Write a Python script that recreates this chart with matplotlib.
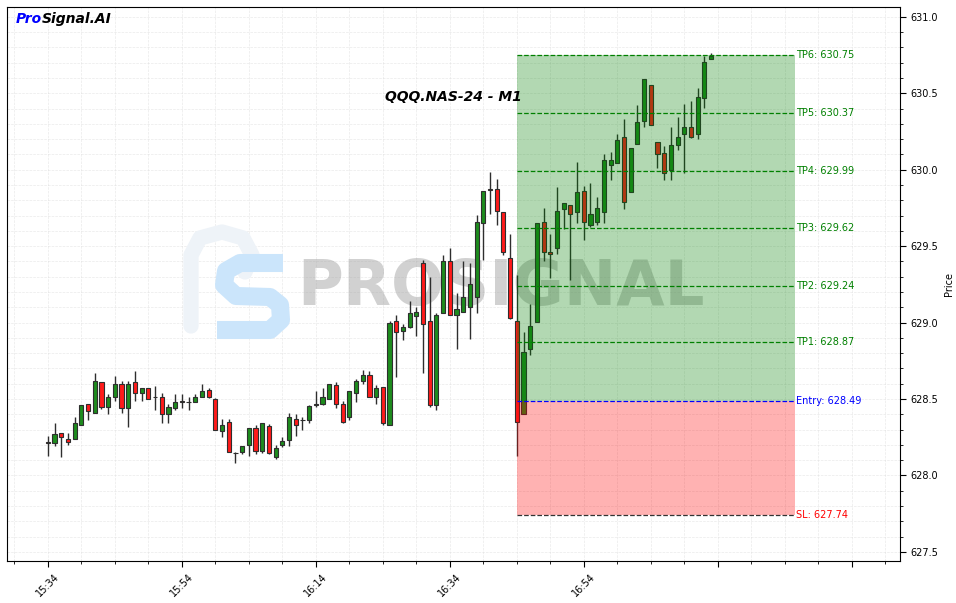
import matplotlib
matplotlib.use("Agg")
import matplotlib.pyplot as plt
from matplotlib.ticker import MultipleLocator, FuncFormatter
from matplotlib.patches import Rectangle
from matplotlib.path import Path
from matplotlib.patches import PathPatch

# ---------------- data ----------------
opens = [628.216, 628.209, 628.276, 628.237, 628.237, 628.329, 628.466, 628.407, 628.610, 628.446,
         628.510, 628.597, 628.440, 628.610, 628.538, 628.571, 628.513, 628.516, 628.401, 628.440,
         628.484, 628.480, 628.479, 628.516, 628.560, 628.499, 628.292, 628.348, 628.147, 628.156,
         628.198, 628.309, 628.163, 628.326, 628.122, 628.200, 628.233, 628.368, 628.362, 628.364,
         628.466, 628.466, 628.499, 628.590, 628.466, 628.379, 628.538, 628.617, 628.656, 628.516,
         628.577, 628.329, 629.009, 628.948, 628.970, 629.040, 629.389, 629.009, 628.462, 629.066,
         629.402, 629.048, 629.068, 629.105, 629.166, 629.650, 629.875, 629.873, 629.722, 629.421,
         629.011, 628.401, 628.826, 629.007, 629.657, 629.460, 629.487, 629.742, 629.768, 629.722,
         629.860, 629.637, 629.657, 629.726, 630.030, 630.043, 630.217, 629.853, 630.167, 630.317,
         630.553, 630.180, 630.108, 629.997, 630.160, 630.232, 630.278, 630.232, 630.468, 630.723]
highs = [628.259, 628.342, 628.276, 628.276, 628.385, 628.460, 628.466, 628.669, 628.610, 628.532,
         628.651, 628.619, 628.619, 628.686, 628.571, 628.571, 628.588, 628.538, 628.466, 628.532,
         628.532, 628.516, 628.532, 628.597, 628.571, 628.505, 628.368, 628.370, 628.152, 628.191,
         628.313, 628.331, 628.342, 628.335, 628.200, 628.250, 628.407, 628.403, 628.381, 628.462,
         628.553, 628.575, 628.595, 628.612, 628.484, 628.551, 628.630, 628.691, 628.686, 628.590,
         628.577, 629.009, 629.048, 628.989, 629.138, 629.105, 629.410, 629.297, 629.066, 629.445,
         629.485, 629.192, 629.402, 629.389, 629.705, 629.860, 629.988, 629.938, 629.726, 629.580,
         629.312, 628.937, 629.120, 629.650, 629.748, 629.578, 629.890, 629.785, 629.768, 630.049,
         629.895, 629.916, 629.825, 630.102, 630.119, 630.232, 630.330, 630.141, 630.422, 630.592,
         630.553, 630.180, 630.158, 630.278, 630.348, 630.429, 630.450, 630.533, 630.745, 630.763]
lows = [628.128, 628.193, 628.119, 628.200, 628.237, 628.329, 628.363, 628.407, 628.433, 628.401,
        628.488, 628.411, 628.316, 628.488, 628.488, 628.499, 628.429, 628.346, 628.346, 628.429,
        628.440, 628.429, 628.479, 628.512, 628.505, 628.296, 628.252, 628.152, 628.084, 628.139,
        628.128, 628.139, 628.146, 628.139, 628.106, 628.189, 628.194, 628.255, 628.298, 628.342,
        628.447, 628.462, 628.499, 628.440, 628.342, 628.364, 628.479, 628.599, 628.512, 628.466,
        628.331, 628.329, 628.647, 628.887, 628.963, 628.909, 628.669, 628.447, 628.425, 629.066,
        629.048, 628.826, 629.068, 628.891, 629.061, 629.410, 629.711, 629.639, 629.443, 629.022,
        628.124, 628.401, 628.787, 629.007, 629.406, 629.290, 629.447, 629.611, 629.279, 629.654,
        629.541, 629.624, 629.639, 629.650, 629.934, 630.043, 629.742, 629.853, 630.167, 630.278,
        630.291, 630.010, 629.934, 629.934, 630.130, 629.977, 630.206, 630.200, 630.407, 630.723]
closes = [628.214, 628.270, 628.250, 628.217, 628.342, 628.460, 628.422, 628.619, 628.446, 628.512,
          628.597, 628.444, 628.597, 628.538, 628.571, 628.499, 628.511, 628.401, 628.446, 628.479,
          628.482, 628.478, 628.516, 628.553, 628.512, 628.296, 628.329, 628.156, 628.145, 628.191,
          628.309, 628.163, 628.342, 628.146, 628.178, 628.228, 628.385, 628.329, 628.360, 628.457,
          628.460, 628.512, 628.595, 628.466, 628.348, 628.551, 628.617, 628.656, 628.516, 628.571,
          628.342, 628.998, 628.937, 628.970, 629.061, 629.068, 628.989, 628.462, 629.048, 629.402,
          629.048, 629.088, 629.168, 629.251, 629.657, 629.860, 629.870, 629.727, 629.461, 629.029,
          628.348, 628.806, 628.979, 629.650, 629.460, 629.447, 629.729, 629.781, 629.709, 629.853,
          629.657, 629.709, 629.748, 630.062, 630.062, 630.193, 629.787, 630.141, 630.311, 630.592,
          630.291, 630.101, 629.977, 630.160, 630.217, 630.278, 630.213, 630.479, 630.703, 630.745]

tick_labels = ["15:34", "15:54", "16:14", "16:34", "16:54"]

entry_index = 70
zone_end = 111.6
entry_price = 628.49
sl_price = 627.74
tp_names = ["TP1", "TP2", "TP3", "TP4", "TP5", "TP6"]
tp_prices = [628.87, 629.24, 629.62, 629.99, 630.37, 630.75]

symbol_title = "QQQ.NAS-24 - M1"

# ---------------- figure ----------------
W, H = 956, 603
fig = plt.figure(figsize=(W / 100, H / 100), dpi=100)
fig.patch.set_facecolor("white")
ax = fig.add_axes([7 / W, 1 - 561 / H, 893 / W, 554 / H])


def px(x, y):
    return (x / W, 1 - y / H)


# watermark logo, drawn inside the axes below the candles
p_pts = [px(191, 326), px(191, 255), px(200, 238), px(222, 232), px(243, 238), px(252, 255), px(245, 272)]
p_path = Path(p_pts, [Path.MOVETO] + [Path.LINETO] * (len(p_pts) - 1))
ax.add_artist(PathPatch(p_path, transform=fig.transFigure, fill=False,
                        edgecolor="#eef3f8", lw=11, capstyle="round", joinstyle="round", zorder=1))
s_pts = [px(283, 263), px(240, 263), px(226, 271), px(224, 285), px(236, 296), px(270, 297),
         px(280, 305), px(281, 320), px(270, 330), px(217, 330)]
s_path = Path(s_pts, [Path.MOVETO] + [Path.LINETO] * (len(s_pts) - 1))
ax.add_artist(PathPatch(s_path, transform=fig.transFigure, fill=False,
                        edgecolor="#cbe5fb", lw=13, capstyle="butt", joinstyle="round", zorder=1))
ax.text(501 / W, 1 - 288 / H, "PROSIGNAL", transform=fig.transFigure, fontsize=45, fontweight="bold",
        color="#9a9a9a", alpha=0.45, ha="center", va="center", zorder=1)

# candles
x = list(range(len(opens)))
body_bottom = [min(o, c) for o, c in zip(opens, closes)]
body_height = [max(abs(c - o), 0.004) for o, c in zip(opens, closes)]
colors = ["#1e8c1e" if c >= o else "#ff1a1a" for o, c in zip(opens, closes)]
ax.vlines(x, lows, highs, color="#2e2e2e", linewidth=1.0, zorder=2)
ax.bar(x, body_height, bottom=body_bottom, width=0.62, color=colors,
       edgecolor="#2e2e2e", linewidth=0.8, zorder=3)

# trade zones
ax.add_patch(Rectangle((entry_index, entry_price), zone_end - entry_index, tp_prices[-1] - entry_price,
                       facecolor="green", alpha=0.3, edgecolor="none", zorder=4))
ax.add_patch(Rectangle((entry_index, sl_price), zone_end - entry_index, entry_price - sl_price,
                       facecolor="red", alpha=0.3, edgecolor="none", zorder=4))

for name, price in zip(tp_names, tp_prices):
    ax.hlines(price, entry_index, zone_end, colors="green", linestyles="--", linewidth=0.9, zorder=5)
    ax.text(zone_end + 0.1, price, f"{name}: {price:.2f}", color="green", fontsize=7,
            va="center", ha="left", zorder=6)
ax.hlines(entry_price, entry_index, zone_end, colors="blue", linestyles="--", linewidth=0.9, zorder=5)
ax.text(zone_end + 0.1, entry_price, f"Entry: {entry_price:.2f}", color="blue", fontsize=7,
        va="center", ha="left", zorder=6)
ax.hlines(sl_price, entry_index, zone_end, colors="#333333", linestyles="--", linewidth=0.9, zorder=5)
ax.text(zone_end + 0.1, sl_price, f"SL: {sl_price:.2f}", color="red", fontsize=7,
        va="center", ha="left", zorder=6)

# axes setup
ax.set_xlim(-6.1, 127.2)
ax.set_ylim(627.44, 631.065)
ax.yaxis.tick_right()
ax.yaxis.set_label_position("right")
ax.set_ylabel("Price", fontsize=7)
ax.yaxis.set_major_locator(MultipleLocator(0.5))
ax.yaxis.set_minor_locator(MultipleLocator(0.1))
ax.yaxis.set_major_formatter(FuncFormatter(lambda v, p: f"{v:.1f}"))
ax.xaxis.set_major_locator(MultipleLocator(20))
ax.xaxis.set_minor_locator(MultipleLocator(5))


def xfmt(v, p):
    k = int(round(v / 20))
    if abs(v - 20 * k) < 1e-6 and 0 <= k < len(tick_labels):
        return tick_labels[k]
    return ""


ax.xaxis.set_major_formatter(FuncFormatter(xfmt))
ax.tick_params(axis="both", which="major", labelsize=7, length=4)
ax.tick_params(axis="both", which="minor", length=2)
plt.setp(ax.get_xticklabels(), rotation=45, ha="center")
ax.grid(True, which="both", linestyle="--", color="#dcdcdc", linewidth=0.5, alpha=0.6, zorder=0)
ax.set_axisbelow(True)

ax.text(0.5, 0.8375, symbol_title, transform=ax.transAxes, ha="center", va="center",
        fontsize=10, fontweight="bold", fontstyle="italic", zorder=7)

t1 = fig.text(16 / W, 1 - 19 / H, "Pro", color="blue", fontsize=10, fontweight="bold",
              fontstyle="italic", ha="left", va="center")
ax.annotate("Signal.AI", xy=(1, 0.5), xycoords=t1, color="black", fontsize=10, fontweight="bold",
            fontstyle="italic", ha="left", va="center", annotation_clip=False)

fig.savefig("out.png", dpi=100)
